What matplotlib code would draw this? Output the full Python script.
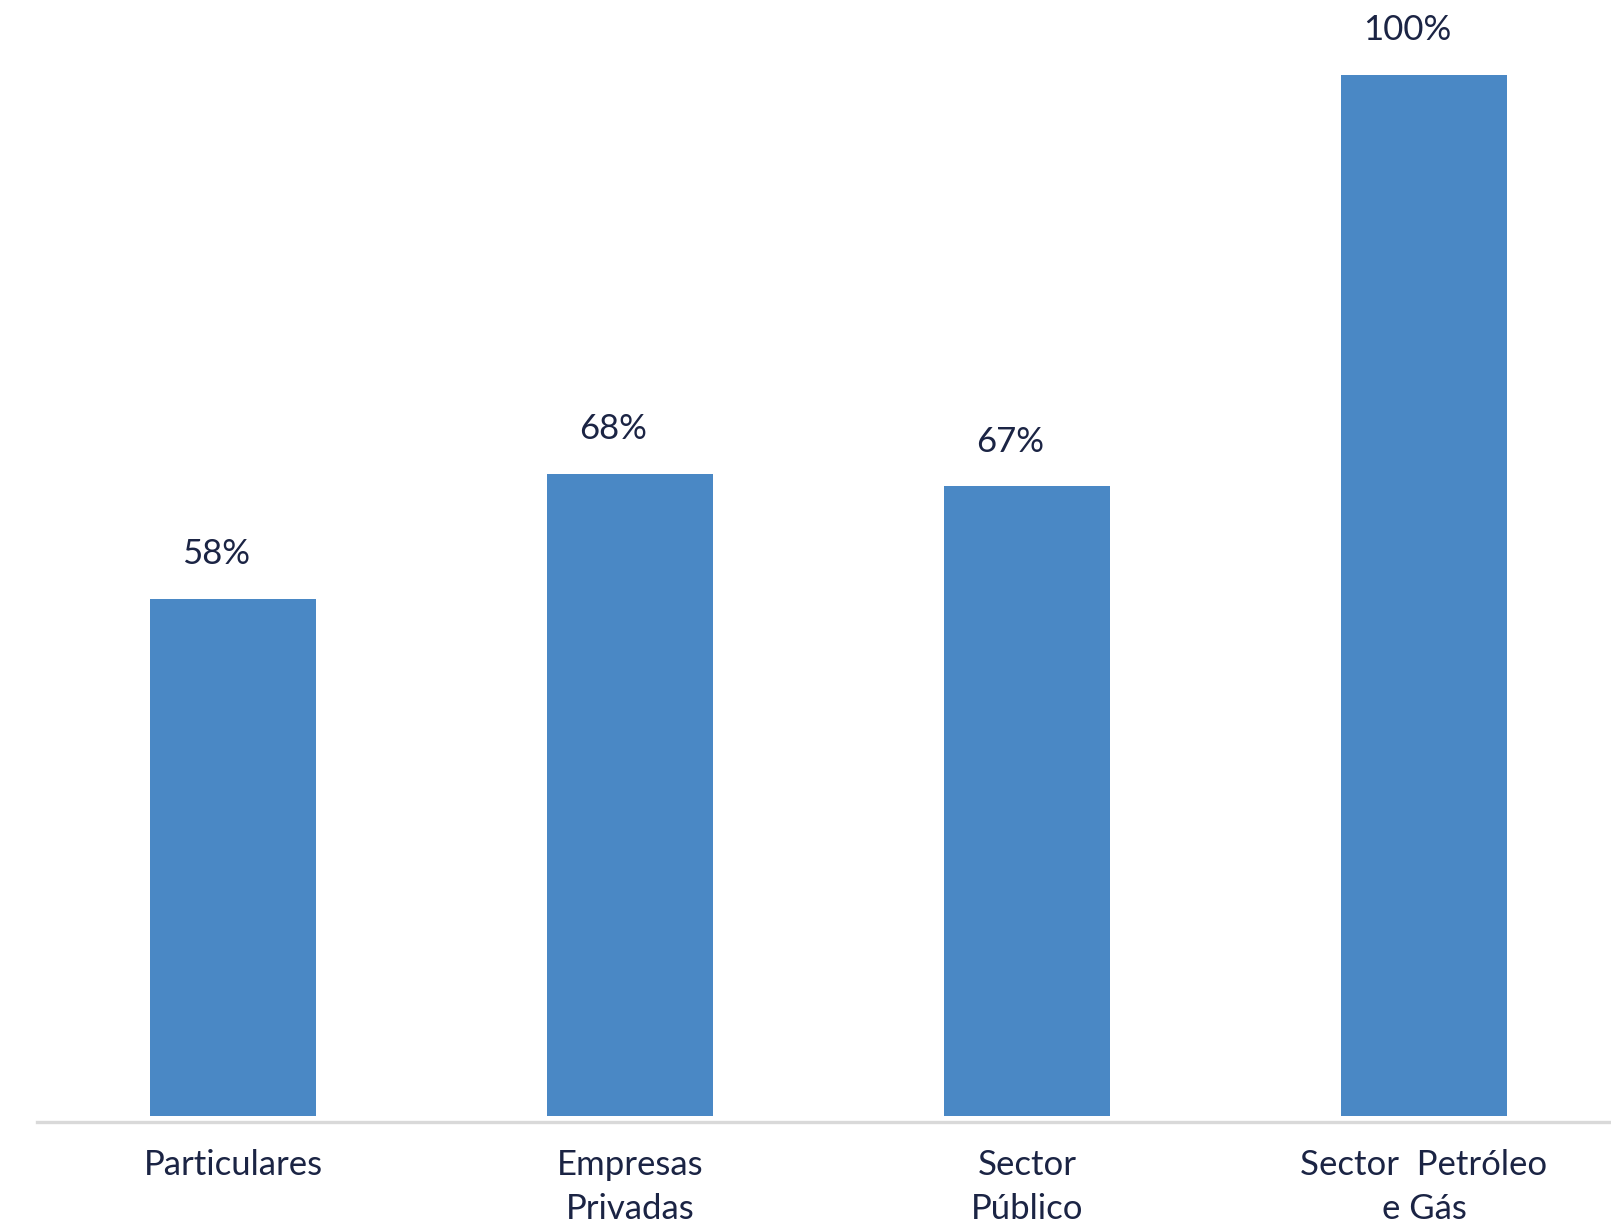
import matplotlib
matplotlib.use("Agg")
import matplotlib.pyplot as plt

categories = ["Particulares", "Empresas\nPrivadas", "Sector\nPúblico", "Sector  Petróleo\ne Gás"]
values = [58, 68, 67, 100]
labels = ["58%", "68%", "67%", "100%"]

bar_color = "#4a88c5"
text_color = "#1b2444"
font = ["Lato", "DejaVu Sans"]

fig = plt.figure(figsize=(16.11, 12.30), dpi=100)
ax = fig.add_axes([37 / 1611, 114 / 1230, 1 - 37 / 1611, 1 - 114 / 1230])

for s in ["left", "right", "top"]:
    ax.spines[s].set_visible(False)
ax.spines["bottom"].set_color("#d9d9d9")
ax.spines["bottom"].set_linewidth(2.4)
ax.spines["bottom"].set_position(("outward", 4))

base = 16.5
x = list(range(len(values)))
ax.bar(x, [v - base for v in values], bottom=base, width=0.42, color=bar_color)
ax.set_xlim(-0.494, 3.471)
ax.set_ylim(base, 106.0)

for xi, v, lab in zip(x, values, labels):
    ax.annotate(lab, (xi, v), xytext=(-12, 25), textcoords="offset points",
                ha="center", va="baseline", fontsize=25, color=text_color,
                family=font)

ax.set_xticks(x)
ax.set_xticklabels(categories, fontsize=25, color=text_color, family=font,
                   linespacing=1.45)
ax.tick_params(axis="x", length=0, pad=20)
ax.set_yticks([])

fig.savefig("out.png", dpi=100)
